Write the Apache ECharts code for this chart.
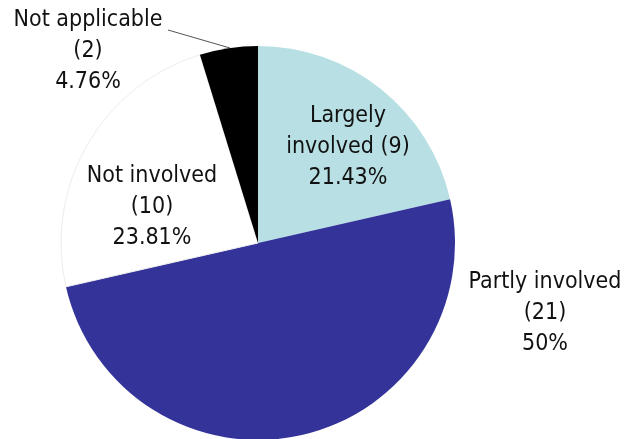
<!DOCTYPE html>
<html>
<head>
<meta charset="utf-8">
<script src="https://cdn.jsdelivr.net/npm/echarts@6/dist/echarts.min.js"></script>
<style>
  html, body { margin: 0; padding: 0; background: #fff; }
  #chart { width: 628px; height: 439px; }
</style>
</head>
<body>
<div id="chart"></div>
<script>
// Involvement categories, counts and slice colours
const categories = ['Largely involved', 'Partly involved', 'Not involved', 'Not applicable'];
const counts = [9, 21, 10, 2];
const percents = ['21.43%', '50%', '23.81%', '4.76%'];
const sliceColors = ['#b8e0e4', '#333399', '#ffffff', '#000000'];

// Label text wrapping and placement for each slice
const labelLines = [
  ['Largely', 'involved (9)'],
  ['Partly involved', '(21)'],
  ['Not involved', '(10)'],
  ['Not applicable', '(2)']
];
const labelCenters = [[348, 147], [545, 313], [152, 207], [88, 51]];
// Leader line for the small slice, from the end of its first text line to the slice rim
const leaderPoints = [[168, 30], [199, 39], [230, 48]];

const data = categories.map((name, i) => ({
  name,
  value: counts[i],
  itemStyle: i === 2
    ? { color: sliceColors[i], borderColor: '#ececec', borderWidth: 1 }
    : { color: sliceColors[i], borderWidth: 0 },
  labelLine: { show: i === 3 }
}));

const chart = echarts.init(document.getElementById('chart'), null, { renderer: 'canvas' });
chart.setOption({
  animation: false,
  backgroundColor: '#fff',
  series: [{
    type: 'pie',
    center: [258, 243],
    radius: [0, 197],
    startAngle: 90,
    clockwise: true,
    data,
    label: {
      show: true,
      position: 'outside',
      alignTo: 'none',
      overflow: 'none',
      fontFamily: 'DejaVu Sans Condensed',
      fontStretch: 'condensed',
      fontSize: 23,
      lineHeight: 31,
      color: '#111',
      align: 'center',
      formatter: p => labelLines[p.dataIndex].concat([percents[p.dataIndex]]).join('\n')
    },
    labelLine: {
      lineStyle: { color: '#555', width: 1 },
      length: 10,
      length2: 10
    },
    labelLayout: p => {
      const out = {
        x: labelCenters[p.dataIndex][0],
        y: labelCenters[p.dataIndex][1],
        align: 'center',
        verticalAlign: 'middle'
      };
      if (p.dataIndex === 3) out.labelLinePoints = leaderPoints;
      return out;
    }
  }]
});
</script>
</body>
</html>
